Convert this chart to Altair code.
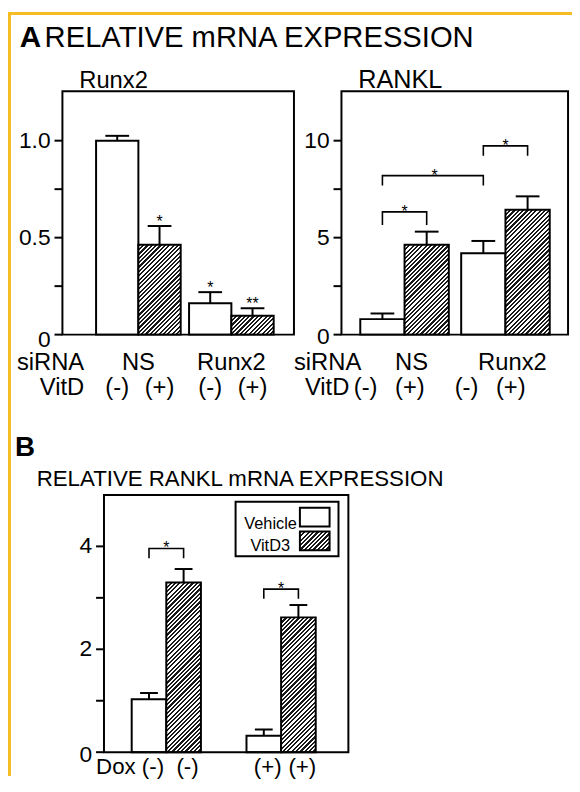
import altair as alt
import pandas as pd

# ---------------- values ----------------
A_SIRNA = ["NS", "NS", "Runx2", "Runx2"]
A_VITD = ["(-)", "(+)", "(-)", "(+)"]
A_GROUPS = ["NS", "Runx2"]
A_LEVELS = ["(-)", "(+)"]

RUNX2_MEAN = [1.00, 0.463, 0.162, 0.097]
RUNX2_ERR = [0.025, 0.097, 0.057, 0.039]
RUNX2_STAR = ["", "*", "*", "**"]

RANKL_MEAN = [0.80, 4.63, 4.20, 6.44]
RANKL_ERR = [0.29, 0.68, 0.63, 0.69]
RANKL_STAR = ["", "", "", ""]
RANKL_BR_FROM = [0, 0, 2]
RANKL_BR_TO = [1, 2, 3]
RANKL_BR_TOP = [6.33, 8.20, 9.73]
RANKL_BR_LEG = [5.65, 7.69, 9.22]

B_DOX = ["(-)", "(-)", "(+)", "(+)"]
B_TREAT = ["Vehicle", "VitD3", "Vehicle", "VitD3"]
B_GROUPS = ["(-)", "(+)"]
B_LEVELS = ["Vehicle", "VitD3"]
B_MEAN = [1.03, 3.30, 0.32, 2.62]
B_ERR = [0.12, 0.26, 0.12, 0.24]
B_STAR = ["", "", "", ""]
B_BR_FROM = [0, 2]
B_BR_TO = [1, 3]
B_BR_TOP = [3.96, 3.17]
B_BR_LEG = [3.77, 2.98]

RUNX2_TICKS = [0, 0.25, 0.5, 0.75, 1.0]
RUNX2_TICK_LABELS = ["0", "", "0.5", "", "1.0"]
RANKL_TICKS = [0, 2.5, 5, 7.5, 10]
RANKL_TICK_LABELS = ["0", "", "5", "", "10"]
B_TICKS = [0, 1, 2, 3, 4]
B_TICK_LABELS = ["0", "", "2", "", "4"]

TITLE_A = ["A", "RELATIVE mRNA EXPRESSION"]
SUBTITLES_A = ["Runx2", "RANKL"]
ROW_HEADERS_A = ["siRNA", "VitD"]
TITLE_B = ["B", "RELATIVE RANKL mRNA EXPRESSION"]
ROW_HEADER_B = ["Dox"]
LEGEND_LABELS = ["Vehicle", "VitD3"]

# ---------------- layout / style ----------------
W, H = 570, 772
FONT = "Liberation Sans, Arial, Helvetica, sans-serif"
GOLD = "#f5bd23"
HATCH_DARK = "#1a1a1a"
HATCH_LIGHT = "#ffffff"


def hatch(w, h, period=4.4, frac=0.5):
    r = h / w
    a = (1 + r) / (1 + r * r)
    T = w + h
    stops = []
    k = 0
    while True:
        s = k * period / T
        if s >= 1:
            break
        e = min(1.0, s + frac * period / T)
        n = min(1.0, (k + 1) * period / T)
        stops += [
            {"offset": round(s, 5), "color": HATCH_DARK},
            {"offset": round(e, 5), "color": HATCH_DARK},
            {"offset": round(e, 5), "color": HATCH_LIGHT},
            {"offset": round(n, 5), "color": HATCH_LIGHT},
        ]
        k += 1
    return {"gradient": "linear", "x1": 0, "y1": 0, "x2": round(a, 5),
            "y2": round(r * a, 5), "stops": stops}


def text_at(s, x, y, size, weight="normal", align="left"):
    return alt.Chart(pd.DataFrame({"t": [s]})).mark_text(
        font=FONT, fontSize=size, fontWeight=weight, align=align,
        baseline="alphabetic", color="black"
    ).encode(x=alt.value(x), y=alt.value(y), text="t:N")


def box(x0, x1, y0, y1, fill="white", fill_opacity=0.0):
    return alt.Chart(pd.DataFrame({"k": [0]})).mark_rect(
        fill=fill, fillOpacity=fill_opacity, stroke="black", strokeWidth=2
    ).encode(x=alt.value(x0), x2=alt.value(x1), y=alt.value(y0), y2=alt.value(y1))


def panel(groups_col, levels_col, groups, levels, mean, err, stars,
          br_from, br_to, br_top, br_leg,
          xr, pin, pout, align, yr, ydom, ticks, tick_labels,
          cap, label_y, bar_label_y, bar_label_field, group_labels=True,
          label_size=24, cross_dx=8, bar_label_dx=0, group_label_dx=0,
          zero_dy=4):
    n = len(groups)
    df = pd.DataFrame({"i": list(range(len(mean))), "g": groups_col,
                       "l": levels_col, "mean": mean, "err": err, "star": stars})
    xscale = alt.Scale(domain=groups, range=xr, paddingInner=pin,
                       paddingOuter=pout, align=align)
    oscale = alt.Scale(domain=levels, paddingInner=0, paddingOuter=0)
    yscale = alt.Scale(domain=ydom, range=yr, nice=False, zero=True)
    X = alt.X("g:N", scale=xscale, axis=None)
    XO = alt.XOffset("l:N", scale=oscale)

    def Y(f):
        return alt.Y(f, scale=yscale, axis=None)

    step = (xr[1] - xr[0]) / (n - pin + 2 * pout)
    sub_w = step * (1 - pin) / len(levels)
    ppu = (yr[0] - yr[1]) / ydom[1]

    base = alt.Chart(df)
    layers = []
    layers.append(
        base.transform_filter(f"datum.l == '{levels[0]}'").mark_bar(
            fill="white", stroke="black", strokeWidth=2, opacity=1
        ).encode(x=X, xOffset=XO, y=Y("mean:Q"))
    )
    for i, (lv, m) in enumerate(zip(levels_col, mean)):
        if lv == levels[1]:
            layers.append(
                base.transform_filter(f"datum.i == {i}").mark_bar(
                    fill=hatch(sub_w, m * ppu), stroke="black", strokeWidth=2, opacity=1
                ).encode(x=X, xOffset=XO, y=Y("mean:Q"))
            )
    eb = base.transform_calculate(top="datum.mean + datum.err")
    layers.append(
        eb.mark_rule(color="black", strokeWidth=2).encode(
            x=X, xOffset=XO, y=Y("mean:Q"), y2="top:Q")
    )
    layers.append(
        eb.mark_tick(orient="horizontal", size=cap, thickness=2, color="black",
                     opacity=1).encode(x=X, xOffset=XO, y=Y("top:Q"))
    )
    if any(stars):
        layers.append(
            eb.transform_filter("datum.star != ''").mark_text(
                font=FONT, fontSize=16, baseline="alphabetic", color="black", dy=1
            ).encode(x=X, xOffset=XO, y=Y("top:Q"), text="star:N")
        )
    # significance brackets
    if br_from:
        rows, stars_in, stars_cross = [], [], []
        for b, (f, t, top, leg) in enumerate(zip(br_from, br_to, br_top, br_leg)):
            for o, (bi, yv) in enumerate([(f, leg), (f, top), (t, top), (t, leg)]):
                rows.append({"b": b, "o": o, "g": groups_col[bi],
                             "l": levels_col[bi], "y": yv})
            if groups_col[f] == groups_col[t]:
                stars_in.append({"g": groups_col[f], "y": top, "s": "*"})
            else:
                stars_cross.append({"g": groups_col[f], "l": levels[-1], "y": top, "s": "*"})
        layers.append(
            alt.Chart(pd.DataFrame(rows)).mark_line(
                color="black", strokeWidth=1.6, opacity=1).encode(
                x=X, xOffset=XO, y=Y("y:Q"), detail="b:N", order="o:Q")
        )
        if stars_in:
            layers.append(
                alt.Chart(pd.DataFrame(stars_in)).mark_text(
                    font=FONT, fontSize=16, baseline="alphabetic", color="black", dy=5
                ).encode(x=X, y=Y("y:Q"), text="s:N")
            )
        if stars_cross:
            layers.append(
                alt.Chart(pd.DataFrame(stars_cross)).mark_text(
                    font=FONT, fontSize=16, baseline="alphabetic", color="black",
                    dy=5, dx=cross_dx
                ).encode(x=X, xOffset=XO, y=Y("y:Q"), text="s:N")
            )
    # y ticks and tick labels, drawn through the y scale
    tdf = pd.DataFrame({"v": ticks, "lab": tick_labels})
    tbase = alt.Chart(tdf)
    layers.append(
        tbase.mark_rule(color="black", strokeWidth=2).encode(
            x=alt.value(xr[0] - 8), x2=alt.value(xr[0]), y=Y("v:Q"))
    )
    layers.append(
        tbase.transform_filter("datum.v != 0").mark_text(
            font=FONT, fontSize=23, align="right", baseline="middle", color="black"
        ).encode(x=alt.value(xr[0] - 12), y=Y("v:Q"), text="lab:N")
    )
    layers.append(
        tbase.transform_filter("datum.v == 0").mark_text(
            font=FONT, fontSize=23, align="right", baseline="middle", color="black",
            dy=zero_dy
        ).encode(x=alt.value(xr[0] - 12), y=Y("v:Q"), text="lab:N")
    )
    # category labels below the frame
    if group_labels:
        layers.append(
            alt.Chart(pd.DataFrame({"g": groups})).mark_text(
                font=FONT, fontSize=label_size, baseline="alphabetic", color="black",
                dx=group_label_dx
            ).encode(x=X, y=alt.value(label_y), text="g:N")
        )
    layers.append(
        base.mark_text(font=FONT, fontSize=label_size, baseline="alphabetic",
                       color="black", dx=bar_label_dx).encode(
            x=X, xOffset=XO, y=alt.value(bar_label_y), text=f"{bar_label_field}:N")
    )
    layers.append(box(xr[0], xr[1], yr[1], yr[0]))
    return alt.layer(*layers)


XR1, YR1 = [55, 289], [326, 80]
XR2, YR2 = [337, 566], [326, 80]
XR3, YR3 = [97, 344], [748, 488]

pA1 = panel(A_SIRNA, A_VITD, A_GROUPS, A_LEVELS, RUNX2_MEAN, RUNX2_ERR, RUNX2_STAR,
            [], [], [], [], XR1, 0.09, 0.29, 0.624, YR1, [0, 1.255],
            RUNX2_TICKS, RUNX2_TICK_LABELS, 24, 362, 387, "l", zero_dy=5)
pA2 = panel(A_SIRNA, A_VITD, A_GROUPS, A_LEVELS, RANKL_MEAN, RANKL_ERR, RANKL_STAR,
            RANKL_BR_FROM, RANKL_BR_TO, RANKL_BR_TOP, RANKL_BR_LEG,
            XR2, 0.1225, 0.184, 0.507, YR2, [0, 12.55],
            RANKL_TICKS, RANKL_TICK_LABELS, 24, 362, 387, "l",
            bar_label_dx=-17, group_label_dx=7, zero_dy=2)
pB = panel(B_DOX, B_TREAT, B_GROUPS, B_LEVELS, B_MEAN, B_ERR, B_STAR,
           B_BR_FROM, B_BR_TO, B_BR_TOP, B_BR_LEG,
           XR3, 0.397, 0.263, 0.459, YR3, [0, 5.0],
           B_TICKS, B_TICK_LABELS, 18, 0, 770, "g", group_labels=False,
           label_size=22.5, bar_label_dx=4, zero_dy=3)

deco = [
    alt.Chart(pd.DataFrame({"k": [0]})).mark_rule(color=GOLD, strokeWidth=3).encode(
        x=alt.value(0), x2=alt.value(W), y=alt.value(1.5)),
    alt.Chart(pd.DataFrame({"k": [0]})).mark_rule(color=GOLD, strokeWidth=3).encode(
        x=alt.value(1.5), y=alt.value(0), y2=alt.value(H)),
    text_at(TITLE_A[0], 12, 35, 30, "bold"),
    text_at(TITLE_A[1], 37, 35, 29.5),
    text_at(SUBTITLES_A[0], 72, 77, 24),
    text_at(SUBTITLES_A[1], 354, 77, 25.5),
    text_at(ROW_HEADERS_A[0], 77, 362, 24, align="right"),
    text_at(ROW_HEADERS_A[1], 77, 387, 24, align="right"),
    text_at(ROW_HEADERS_A[0], 357, 362, 24, align="right"),
    text_at(ROW_HEADERS_A[1], 345, 387, 24, align="right"),
    text_at(TITLE_B[0], 7, 449, 28, "bold"),
    text_at(TITLE_B[1], 29, 479, 22.5),
    text_at(ROW_HEADER_B[0], 89, 770, 22.5),
    # legend
    box(230, 334, 495, 550),
    box(295, 325, 501, 520, "white", 1.0),
    alt.Chart(pd.DataFrame({"k": [0]})).mark_rect(
        fill=hatch(30, 19), stroke="black", strokeWidth=2).encode(
        x=alt.value(295), x2=alt.value(325), y=alt.value(525), y2=alt.value(544)),
    text_at(LEGEND_LABELS[0], 292, 522, 16.5, align="right"),
    text_at(LEGEND_LABELS[1], 285, 545, 16.5, align="right"),
]

chart = alt.layer(pA1, pA2, pB, *deco).resolve_scale(
    x="independent", y="independent", xOffset="independent"
).properties(
    width=W, height=H, padding=0, background="white",
    autosize=alt.AutoSizeParams(type="none"),
).configure_view(strokeWidth=0)

chart.save("out.html", embed_options={"renderer": "svg", "actions": False})
